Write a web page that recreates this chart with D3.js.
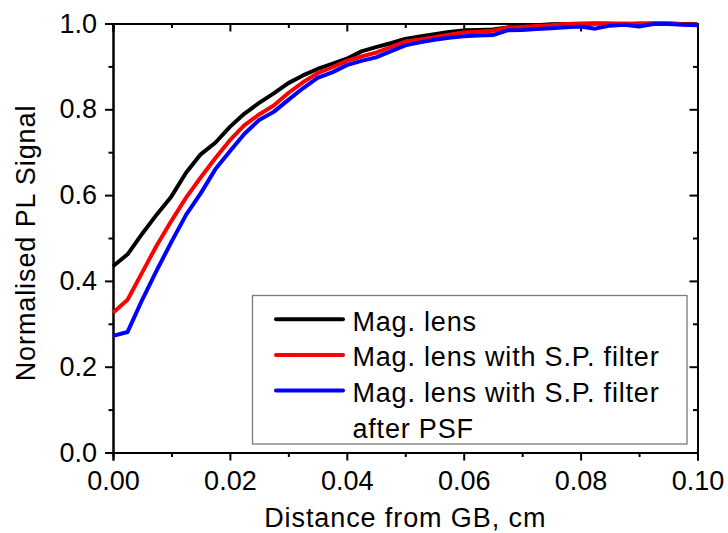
<!DOCTYPE html>
<html>
<head>
<meta charset="utf-8">
<script src="https://cdn.jsdelivr.net/npm/d3@7"></script>
<style>
  html, body { margin: 0; padding: 0; background: #fff; }
  svg text { font-family: Arial, "Liberation Sans", sans-serif; fill: #000; }
</style>
</head>
<body>
<div id="chart"></div>
<script>
// Data
const distance = [
  0, 0.0025, 0.005, 0.0075, 0.01, 0.0125, 0.015, 0.0175, 0.02, 0.0225,
  0.025, 0.0275, 0.03, 0.0325, 0.035, 0.0375, 0.04, 0.0425, 0.045, 0.0475,
  0.05, 0.0525, 0.055, 0.0575, 0.06, 0.0625, 0.065, 0.0675, 0.07, 0.0725,
  0.075, 0.0775, 0.08, 0.0825, 0.085, 0.0875, 0.09, 0.0925, 0.095, 0.0975, 0.1
];
const magLens = [
  0.434, 0.462, 0.51, 0.555, 0.597, 0.652, 0.695, 0.722, 0.759, 0.79,
  0.815, 0.837, 0.861, 0.879, 0.894, 0.906, 0.918, 0.935, 0.945, 0.954,
  0.964, 0.97, 0.975, 0.98, 0.984, 0.985, 0.986, 0.991, 0.993, 0.996,
  0.998, 0.999, 0.999, 1.0, 1.0, 0.999, 1.0, 1.0, 1.0, 0.999, 0.998
];
const magLensFilter = [
  0.326, 0.356, 0.42, 0.483, 0.54, 0.594, 0.641, 0.686, 0.728, 0.763,
  0.788, 0.809, 0.838, 0.863, 0.884, 0.898, 0.913, 0.923, 0.932, 0.945,
  0.958, 0.963, 0.968, 0.974, 0.979, 0.981, 0.983, 0.99, 0.992, 0.994,
  0.996, 0.999, 1.0, 1.0, 0.999, 1.0, 0.998, 1.0, 1.0, 0.998, 0.997
];
const magLensFilterPsf = [
  0.272, 0.281, 0.356, 0.425, 0.491, 0.554, 0.604, 0.66, 0.702, 0.743,
  0.775, 0.794, 0.822, 0.849, 0.873, 0.886, 0.903, 0.913, 0.921, 0.935,
  0.949, 0.956, 0.962, 0.967, 0.97, 0.972, 0.973, 0.984, 0.985, 0.987,
  0.989, 0.991, 0.993, 0.988, 0.995, 0.997, 0.993, 0.999, 0.999, 0.997, 0.996
];
const seriesNames = [
  ["Mag. lens"],
  ["Mag. lens with S.P. filter"],
  ["Mag. lens with S.P. filter", "after PSF"]
];
const seriesColors = ["#000000", "#ff0000", "#0000ff"];
const xTicks = [0, 0.02, 0.04, 0.06, 0.08, 0.1];
const yTicks = [0, 0.2, 0.4, 0.6, 0.8, 1.0];

const width = 728;
const height = 533;
const margin = { top: 23.5, right: 30.5, bottom: 80.5, left: 113 };

const svg = d3
  .select("#chart")
  .append("svg")
  .attr("width", width)
  .attr("height", height);

// Scales
const xScale = d3
  .scaleLinear()
  .domain([0, 0.1])
  .range([margin.left, width - margin.right]);
const yScale = d3
  .scaleLinear()
  .domain([0, 1])
  .range([height - margin.bottom, margin.top]);

const xMinor = d3.range(0.01, 0.1, 0.02);
const yMinor = d3.range(0.1, 1, 0.2);

// Axes (bottom / left outward, top / right inward)
const styleAxis = (g) => {
  g.select(".domain").attr("stroke", "#000").attr("stroke-width", 2);
  g.selectAll(".tick line").attr("stroke", "#000").attr("stroke-width", 2);
  g.selectAll(".tick text").attr("font-size", 27).attr("font-family", "Arial, 'Liberation Sans', sans-serif");
};

const plotBottom = height - margin.bottom;
const plotRight = width - margin.right;

// bottom
svg.append("g")
  .attr("transform", `translate(0, ${plotBottom})`)
  .call(d3.axisBottom(xScale).tickValues(xMinor).tickSize(4.5).tickFormat(""))
  .call(styleAxis);
svg.append("g")
  .attr("transform", `translate(0, ${plotBottom})`)
  .call(d3.axisBottom(xScale).tickValues(xTicks).tickSize(8).tickPadding(10)
    .tickFormat(d3.format(".2f")))
  .call(styleAxis);
// top
svg.append("g")
  .attr("transform", `translate(0, ${margin.top})`)
  .call(d3.axisTop(xScale).tickValues(xMinor).tickSize(-4.5).tickFormat(""))
  .call(styleAxis);
svg.append("g")
  .attr("transform", `translate(0, ${margin.top})`)
  .call(d3.axisTop(xScale).tickValues(xTicks).tickSize(-8).tickFormat(""))
  .call(styleAxis);
// left
svg.append("g")
  .attr("transform", `translate(${margin.left}, 0)`)
  .call(d3.axisLeft(yScale).tickValues(yMinor).tickSize(4.5).tickFormat(""))
  .call(styleAxis);
svg.append("g")
  .attr("transform", `translate(${margin.left}, 0)`)
  .call(d3.axisLeft(yScale).tickValues(yTicks).tickSize(8).tickPadding(8)
    .tickFormat(d3.format(".1f")))
  .call(styleAxis);
// right
svg.append("g")
  .attr("transform", `translate(${plotRight}, 0)`)
  .call(d3.axisRight(yScale).tickValues(yMinor).tickSize(-4.5).tickFormat(""))
  .call(styleAxis);
svg.append("g")
  .attr("transform", `translate(${plotRight}, 0)`)
  .call(d3.axisRight(yScale).tickValues(yTicks).tickSize(-8).tickFormat(""))
  .call(styleAxis);

// Axis titles
svg.append("text")
  .attr("x", (margin.left + plotRight) / 2)
  .attr("y", 527)
  .attr("text-anchor", "middle")
  .attr("font-size", 27)
  .attr("letter-spacing", 0.9)
  .text("Distance from GB, cm");
svg.append("text")
  .attr("transform", `translate(35, 243) rotate(-90)`)
  .attr("text-anchor", "middle")
  .attr("font-size", 27)
  .attr("letter-spacing", 0.9)
  .text("Normalised PL Signal");

// Lines
const allSeries = [magLens, magLensFilter, magLensFilterPsf];
const line = d3
  .line()
  .x((d, i) => xScale(distance[i]))
  .y((d) => yScale(d));

svg.append("g")
  .selectAll("path")
  .data(allSeries)
  .enter()
  .append("path")
  .attr("d", line)
  .attr("fill", "none")
  .attr("stroke", (d, i) => seriesColors[i])
  .attr("stroke-width", 4)
  .attr("stroke-linejoin", "round");

// Legend
const legend = svg.append("g");
legend.append("rect")
  .attr("x", 252.5)
  .attr("y", 295.5)
  .attr("width", 434.5)
  .attr("height", 148.5)
  .attr("fill", "#fff")
  .attr("stroke", "#7a7a7a")
  .attr("stroke-width", 1.3);

let baseline = 330.5;
seriesNames.forEach((lines, i) => {
  legend.append("line")
    .attr("x1", 276)
    .attr("x2", 343)
    .attr("y1", baseline - 11.3)
    .attr("y2", baseline - 11.3)
    .attr("stroke", seriesColors[i])
    .attr("stroke-width", 4)
    .attr("stroke-linecap", "round");
  lines.forEach((t) => {
    legend.append("text")
      .attr("x", 352.5)
      .attr("y", baseline)
      .attr("font-size", 27)
      .attr("letter-spacing", 0.8)
      .text(t);
    baseline += 35.7;
  });
});
</script>
</body>
</html>
